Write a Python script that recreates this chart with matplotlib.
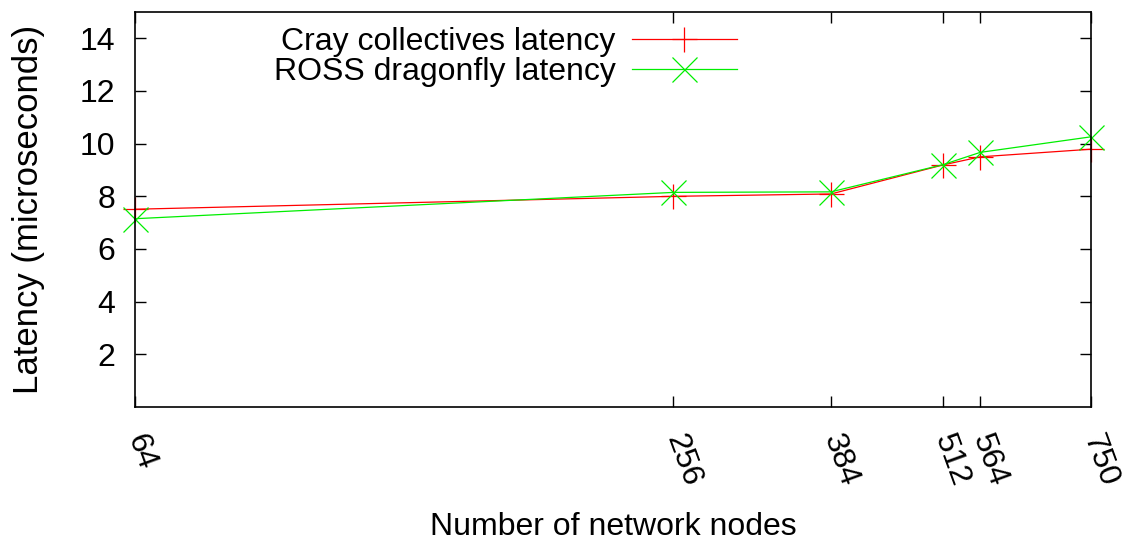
import matplotlib
matplotlib.use("Agg")
import matplotlib.pyplot as plt
from matplotlib.ticker import FixedLocator, NullLocator

plt.rcParams['font.family'] = ['Liberation Sans', 'DejaVu Sans']

# Data
nodes = [64, 256, 384, 512, 564, 750]
cray_latency = [7.51, 8.00, 8.09, 9.19, 9.50, 9.79]
ross_latency = [7.15, 8.15, 8.17, 9.20, 9.67, 10.26]
y_ticks = [2, 4, 6, 8, 10, 12, 14]

fs = 23

fig = plt.figure(figsize=(11.28, 5.41), dpi=100)
ax = fig.add_axes([135 / 1128, 1 - 407 / 541, 956 / 1128, 395 / 541])

ax.plot(nodes, cray_latency, color="#ff0000", lw=0.9, marker="+",
        markersize=18, markeredgewidth=0.9, clip_on=False,
        label="Cray collectives latency")
ax.plot(nodes, ross_latency, color="#00ee00", lw=0.9, marker="x",
        markersize=18, markeredgewidth=0.9, clip_on=False,
        label="ROSS dragonfly latency")

ax.set_xscale("log")
ax.set_xlim(64, 750)
ax.set_ylim(0, 15)
ax.xaxis.set_major_locator(FixedLocator(nodes))
ax.xaxis.set_minor_locator(NullLocator())
ax.set_xticklabels([str(n) for n in nodes], rotation=-70, ha="left",
                   va="center", rotation_mode="anchor")
ax.set_yticks(y_ticks)

ax.tick_params(axis="both", direction="in", length=8, width=1,
               labelsize=fs, top=True, right=True)
ax.tick_params(axis="x", pad=20)
ax.tick_params(axis="y", pad=14)
for s in ax.spines.values():
    s.set_linewidth(1.2)

ax.set_xlabel("Number of network nodes", fontsize=fs, labelpad=16)
ax.set_ylabel("Latency (microseconds)", fontsize=25, labelpad=25)

ax.legend(loc="upper right", bbox_to_anchor=(0.643, 0.995), frameon=False,
          markerfirst=False, fontsize=fs, handlelength=3.3,
          labelspacing=0.02, handletextpad=0.5, borderaxespad=0)

fig.savefig("out.png", dpi=100)
